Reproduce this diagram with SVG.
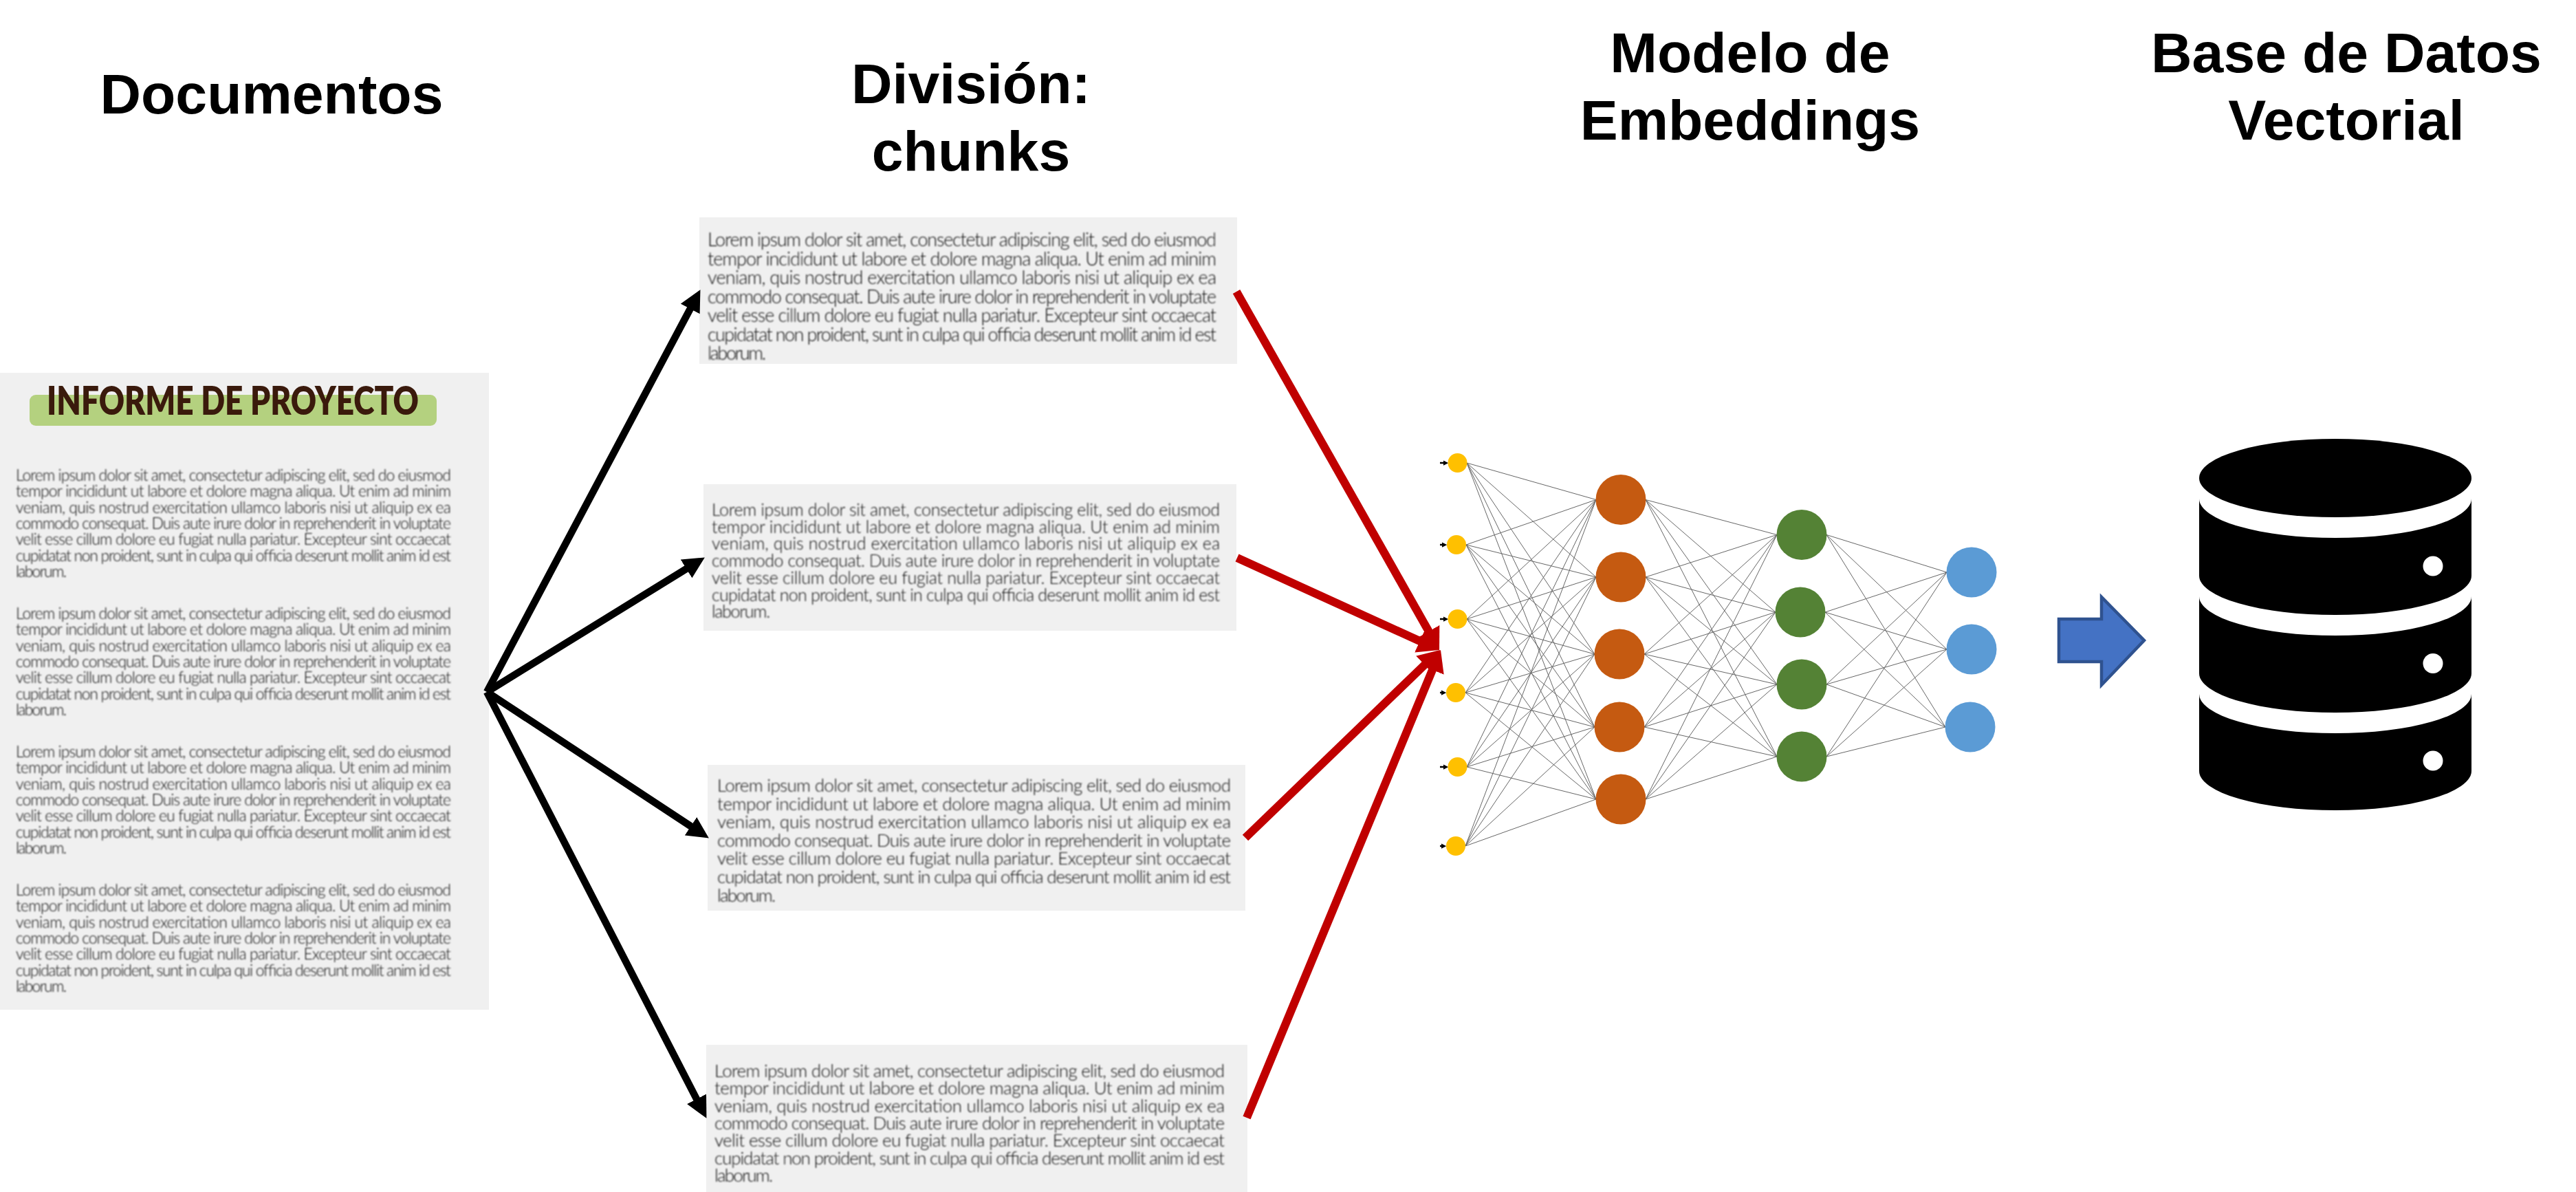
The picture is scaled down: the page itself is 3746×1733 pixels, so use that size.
<svg xmlns="http://www.w3.org/2000/svg" width="3746" height="1733" viewBox="0 0 3746 1733">
<style>
.title{font-family:"Liberation Sans",Arial,sans-serif;font-weight:700;font-size:82.4px;fill:#000;text-anchor:middle}
.sheet{fill:#f0f0f0}
.lorem{font-family:"Lato","Noto Sans",sans-serif;font-weight:300;fill:#0c0c0c;filter:url(#soft)}
.edge{stroke:#666;stroke-width:1;fill:none}
.k{stroke:#000;stroke-width:10.5;fill:none;marker-end:url(#hk)}
.r{stroke:#c00000;stroke-width:12;fill:none;marker-end:url(#hr)}
.i{stroke:#000;stroke-width:2.5;fill:none;marker-end:url(#hi)}
.y{fill:#ffc000}.o{fill:#c55a11}.g{fill:#548235}.b{fill:#5b9bd5}
</style>
<defs>
<filter id="soft" x="-2%" y="-20%" width="104%" height="140%"><feGaussianBlur stdDeviation="0.9"/></filter>
<marker id="hk" viewBox="0 0 3 3" markerWidth="3" markerHeight="3" refX="1" refY="1.5" orient="auto" markerUnits="strokeWidth"><path d="M0 0L3 1.5L0 3Z" fill="#000"/></marker>
<marker id="hr" viewBox="0 0 3 3" markerWidth="3" markerHeight="3" refX="0.6" refY="1.5" orient="auto" markerUnits="strokeWidth"><path d="M0 0L2.6 1.5L0 3Z" fill="#c00000"/></marker>
<marker id="hi" viewBox="0 0 3 3" markerWidth="3" markerHeight="3" refX="0.5" refY="1.5" orient="auto" markerUnits="strokeWidth"><path d="M0 0L3 1.5L0 3Z" fill="#000"/></marker>
</defs>
<rect width="3746" height="1733" fill="#fff"/>

<g id="titulos">
<text class="title" x="395" y="165">Documentos</text>
<text class="title" x="1412" y="150">División:</text>
<text class="title" x="1412" y="248">chunks</text>
<text class="title" x="2545" y="105">Modelo de</text>
<text class="title" x="2545" y="203">Embeddings</text>
<text class="title" x="3412" y="105">Base de Datos</text>
<text class="title" x="3412" y="203">Vectorial</text>
</g>

<g id="documento">
<rect class="sheet" x="0" y="542" width="711" height="926"/>
<rect x="43" y="574" width="592" height="45" rx="9" fill="#b4d17f"/>
<text x="68" y="603" font-family="Lato,'Noto Sans',sans-serif" font-weight="800" font-size="57" fill="#3a1a0c" textLength="541" lengthAdjust="spacingAndGlyphs">INFORME DE PROYECTO</text>
<g class="lorem" font-size="23">
<text x="23" y="699" textLength="633">Lorem ipsum dolor sit amet, consectetur adipiscing elit, sed do eiusmod</text>
<text x="23" y="722.3" textLength="633">tempor incididunt ut labore et dolore magna aliqua. Ut enim ad minim</text>
<text x="23" y="745.6" textLength="633">veniam, quis nostrud exercitation ullamco laboris nisi ut aliquip ex ea</text>
<text x="23" y="768.9" textLength="633">commodo consequat. Duis aute irure dolor in reprehenderit in voluptate</text>
<text x="23" y="792.2" textLength="633">velit esse cillum dolore eu fugiat nulla pariatur. Excepteur sint occaecat</text>
<text x="23" y="815.5" textLength="633">cupidatat non proident, sunt in culpa qui officia deserunt mollit anim id est</text>
<text x="23" y="838.8" textLength="74">laborum.</text>
<text x="23" y="900" textLength="633">Lorem ipsum dolor sit amet, consectetur adipiscing elit, sed do eiusmod</text>
<text x="23" y="923.3" textLength="633">tempor incididunt ut labore et dolore magna aliqua. Ut enim ad minim</text>
<text x="23" y="946.6" textLength="633">veniam, quis nostrud exercitation ullamco laboris nisi ut aliquip ex ea</text>
<text x="23" y="969.9" textLength="633">commodo consequat. Duis aute irure dolor in reprehenderit in voluptate</text>
<text x="23" y="993.2" textLength="633">velit esse cillum dolore eu fugiat nulla pariatur. Excepteur sint occaecat</text>
<text x="23" y="1016.5" textLength="633">cupidatat non proident, sunt in culpa qui officia deserunt mollit anim id est</text>
<text x="23" y="1039.8" textLength="74">laborum.</text>
<text x="23" y="1101" textLength="633">Lorem ipsum dolor sit amet, consectetur adipiscing elit, sed do eiusmod</text>
<text x="23" y="1124.3" textLength="633">tempor incididunt ut labore et dolore magna aliqua. Ut enim ad minim</text>
<text x="23" y="1147.6" textLength="633">veniam, quis nostrud exercitation ullamco laboris nisi ut aliquip ex ea</text>
<text x="23" y="1170.9" textLength="633">commodo consequat. Duis aute irure dolor in reprehenderit in voluptate</text>
<text x="23" y="1194.2" textLength="633">velit esse cillum dolore eu fugiat nulla pariatur. Excepteur sint occaecat</text>
<text x="23" y="1217.5" textLength="633">cupidatat non proident, sunt in culpa qui officia deserunt mollit anim id est</text>
<text x="23" y="1240.8" textLength="74">laborum.</text>
<text x="23" y="1302" textLength="633">Lorem ipsum dolor sit amet, consectetur adipiscing elit, sed do eiusmod</text>
<text x="23" y="1325.3" textLength="633">tempor incididunt ut labore et dolore magna aliqua. Ut enim ad minim</text>
<text x="23" y="1348.6" textLength="633">veniam, quis nostrud exercitation ullamco laboris nisi ut aliquip ex ea</text>
<text x="23" y="1371.9" textLength="633">commodo consequat. Duis aute irure dolor in reprehenderit in voluptate</text>
<text x="23" y="1395.2" textLength="633">velit esse cillum dolore eu fugiat nulla pariatur. Excepteur sint occaecat</text>
<text x="23" y="1418.5" textLength="633">cupidatat non proident, sunt in culpa qui officia deserunt mollit anim id est</text>
<text x="23" y="1441.8" textLength="74">laborum.</text>
</g>
</g>

<g id="chunk-1">
<rect class="sheet" x="1017" y="316" width="782" height="213"/>
<g class="lorem" font-size="27">
<text x="1029" y="358" textLength="740">Lorem ipsum dolor sit amet, consectetur adipiscing elit, sed do eiusmod</text>
<text x="1029" y="385.5" textLength="740">tempor incididunt ut labore et dolore magna aliqua. Ut enim ad minim</text>
<text x="1029" y="413" textLength="740">veniam, quis nostrud exercitation ullamco laboris nisi ut aliquip ex ea</text>
<text x="1029" y="440.5" textLength="740">commodo consequat. Duis aute irure dolor in reprehenderit in voluptate</text>
<text x="1029" y="468" textLength="740">velit esse cillum dolore eu fugiat nulla pariatur. Excepteur sint occaecat</text>
<text x="1029" y="495.5" textLength="740">cupidatat non proident, sunt in culpa qui officia deserunt mollit anim id est</text>
<text x="1029" y="523" textLength="85">laborum.</text>
</g>
</g>

<g id="chunk-2">
<rect class="sheet" x="1023" y="704" width="775" height="213"/>
<g class="lorem" font-size="25">
<text x="1035" y="750" textLength="739">Lorem ipsum dolor sit amet, consectetur adipiscing elit, sed do eiusmod</text>
<text x="1035" y="774.7" textLength="739">tempor incididunt ut labore et dolore magna aliqua. Ut enim ad minim</text>
<text x="1035" y="799.4" textLength="739">veniam, quis nostrud exercitation ullamco laboris nisi ut aliquip ex ea</text>
<text x="1035" y="824.1" textLength="739">commodo consequat. Duis aute irure dolor in reprehenderit in voluptate</text>
<text x="1035" y="848.8" textLength="739">velit esse cillum dolore eu fugiat nulla pariatur. Excepteur sint occaecat</text>
<text x="1035" y="873.5" textLength="739">cupidatat non proident, sunt in culpa qui officia deserunt mollit anim id est</text>
<text x="1035" y="898.2" textLength="85">laborum.</text>
</g>
</g>

<g id="chunk-3">
<rect class="sheet" x="1029" y="1112" width="782" height="212"/>
<g class="lorem" font-size="26">
<text x="1043" y="1151" textLength="747">Lorem ipsum dolor sit amet, consectetur adipiscing elit, sed do eiusmod</text>
<text x="1043" y="1177.6" textLength="747">tempor incididunt ut labore et dolore magna aliqua. Ut enim ad minim</text>
<text x="1043" y="1204.2" textLength="747">veniam, quis nostrud exercitation ullamco laboris nisi ut aliquip ex ea</text>
<text x="1043" y="1230.8" textLength="747">commodo consequat. Duis aute irure dolor in reprehenderit in voluptate</text>
<text x="1043" y="1257.4" textLength="747">velit esse cillum dolore eu fugiat nulla pariatur. Excepteur sint occaecat</text>
<text x="1043" y="1284" textLength="747">cupidatat non proident, sunt in culpa qui officia deserunt mollit anim id est</text>
<text x="1043" y="1310.6" textLength="85">laborum.</text>
</g>
</g>

<g id="chunk-4">
<rect class="sheet" x="1027" y="1519" width="787" height="214"/>
<g class="lorem" font-size="26">
<text x="1039" y="1566" textLength="742">Lorem ipsum dolor sit amet, consectetur adipiscing elit, sed do eiusmod</text>
<text x="1039" y="1591.3" textLength="742">tempor incididunt ut labore et dolore magna aliqua. Ut enim ad minim</text>
<text x="1039" y="1616.6" textLength="742">veniam, quis nostrud exercitation ullamco laboris nisi ut aliquip ex ea</text>
<text x="1039" y="1641.9" textLength="742">commodo consequat. Duis aute irure dolor in reprehenderit in voluptate</text>
<text x="1039" y="1667.2" textLength="742">velit esse cillum dolore eu fugiat nulla pariatur. Excepteur sint occaecat</text>
<text x="1039" y="1692.5" textLength="742">cupidatat non proident, sunt in culpa qui officia deserunt mollit anim id est</text>
<text x="1039" y="1717.8" textLength="85">laborum.</text>
</g>
</g>

<g id="connectors">
<line class="k" x1="708" y1="1006" x2="1008.6" y2="439.7"/>
<line class="k" x1="708" y1="1006" x2="1007" y2="821.5"/>
<line class="k" x1="708" y1="1006" x2="1013.3" y2="1207"/>
<line class="k" x1="708" y1="1006" x2="1017.8" y2="1607.2"/>
<line class="r" x1="1798" y1="424" x2="2081.2" y2="924.1"/>
<line class="r" x1="1799" y1="811" x2="2071.2" y2="935"/>
<line class="r" x1="1811" y1="1218" x2="2076.7" y2="961.7"/>
<line class="r" x1="1813" y1="1625" x2="2085.8" y2="967.2"/>
<line class="i" x1="2094" y1="673" x2="2100" y2="673"/>
<line class="i" x1="2094" y1="792" x2="2098" y2="792"/>
<line class="i" x1="2094" y1="900" x2="2100" y2="900"/>
<line class="i" x1="2094" y1="1007" x2="2097" y2="1007"/>
<line class="i" x1="2094" y1="1115" x2="2100" y2="1115"/>
<line class="i" x1="2094" y1="1230" x2="2097" y2="1230"/>
<g id="capa-1-2">
<line class="edge" x1="2133" y1="673" x2="2321" y2="726.5"/><line class="edge" x1="2133" y1="673" x2="2321" y2="839"/><line class="edge" x1="2133" y1="673" x2="2319" y2="951"/><line class="edge" x1="2133" y1="673" x2="2319" y2="1057"/><line class="edge" x1="2133" y1="673" x2="2321" y2="1162"/>
<line class="edge" x1="2132" y1="792" x2="2321" y2="726.5"/><line class="edge" x1="2132" y1="792" x2="2321" y2="839"/><line class="edge" x1="2132" y1="792" x2="2319" y2="951"/><line class="edge" x1="2132" y1="792" x2="2319" y2="1057"/><line class="edge" x1="2132" y1="792" x2="2321" y2="1162"/>
<line class="edge" x1="2133" y1="900" x2="2321" y2="726.5"/><line class="edge" x1="2133" y1="900" x2="2321" y2="839"/><line class="edge" x1="2133" y1="900" x2="2319" y2="951"/><line class="edge" x1="2133" y1="900" x2="2319" y2="1057"/><line class="edge" x1="2133" y1="900" x2="2321" y2="1162"/>
<line class="edge" x1="2131" y1="1007" x2="2321" y2="726.5"/><line class="edge" x1="2131" y1="1007" x2="2321" y2="839"/><line class="edge" x1="2131" y1="1007" x2="2319" y2="951"/><line class="edge" x1="2131" y1="1007" x2="2319" y2="1057"/><line class="edge" x1="2131" y1="1007" x2="2321" y2="1162"/>
<line class="edge" x1="2133" y1="1115" x2="2321" y2="726.5"/><line class="edge" x1="2133" y1="1115" x2="2321" y2="839"/><line class="edge" x1="2133" y1="1115" x2="2319" y2="951"/><line class="edge" x1="2133" y1="1115" x2="2319" y2="1057"/><line class="edge" x1="2133" y1="1115" x2="2321" y2="1162"/>
<line class="edge" x1="2131" y1="1230" x2="2321" y2="726.5"/><line class="edge" x1="2131" y1="1230" x2="2321" y2="839"/><line class="edge" x1="2131" y1="1230" x2="2319" y2="951"/><line class="edge" x1="2131" y1="1230" x2="2319" y2="1057"/><line class="edge" x1="2131" y1="1230" x2="2321" y2="1162"/>
</g>
<g id="capa-2-3">
<line class="edge" x1="2393" y1="726.5" x2="2584" y2="777.5"/><line class="edge" x1="2393" y1="726.5" x2="2582" y2="890"/><line class="edge" x1="2393" y1="726.5" x2="2584" y2="995"/><line class="edge" x1="2393" y1="726.5" x2="2584" y2="1100"/>
<line class="edge" x1="2393" y1="839" x2="2584" y2="777.5"/><line class="edge" x1="2393" y1="839" x2="2582" y2="890"/><line class="edge" x1="2393" y1="839" x2="2584" y2="995"/><line class="edge" x1="2393" y1="839" x2="2584" y2="1100"/>
<line class="edge" x1="2391" y1="951" x2="2584" y2="777.5"/><line class="edge" x1="2391" y1="951" x2="2582" y2="890"/><line class="edge" x1="2391" y1="951" x2="2584" y2="995"/><line class="edge" x1="2391" y1="951" x2="2584" y2="1100"/>
<line class="edge" x1="2391" y1="1057" x2="2584" y2="777.5"/><line class="edge" x1="2391" y1="1057" x2="2582" y2="890"/><line class="edge" x1="2391" y1="1057" x2="2584" y2="995"/><line class="edge" x1="2391" y1="1057" x2="2584" y2="1100"/>
<line class="edge" x1="2393" y1="1162" x2="2584" y2="777.5"/><line class="edge" x1="2393" y1="1162" x2="2582" y2="890"/><line class="edge" x1="2393" y1="1162" x2="2584" y2="995"/><line class="edge" x1="2393" y1="1162" x2="2584" y2="1100"/>
</g>
<g id="capa-3-4">
<line class="edge" x1="2656" y1="777.5" x2="2831" y2="832"/><line class="edge" x1="2656" y1="777.5" x2="2831" y2="944"/><line class="edge" x1="2656" y1="777.5" x2="2829" y2="1057"/>
<line class="edge" x1="2654" y1="890" x2="2831" y2="832"/><line class="edge" x1="2654" y1="890" x2="2831" y2="944"/><line class="edge" x1="2654" y1="890" x2="2829" y2="1057"/>
<line class="edge" x1="2656" y1="995" x2="2831" y2="832"/><line class="edge" x1="2656" y1="995" x2="2831" y2="944"/><line class="edge" x1="2656" y1="995" x2="2829" y2="1057"/>
<line class="edge" x1="2656" y1="1100" x2="2831" y2="832"/><line class="edge" x1="2656" y1="1100" x2="2831" y2="944"/><line class="edge" x1="2656" y1="1100" x2="2829" y2="1057"/>
</g>
</g>

<g id="red-neuronal">
<g id="entrada">
<circle class="y" cx="2119.5" cy="673" r="14"/><circle class="y" cx="2118" cy="792" r="14"/><circle class="y" cx="2119.5" cy="900" r="14"/><circle class="y" cx="2117" cy="1007" r="14"/><circle class="y" cx="2119.5" cy="1115" r="14"/><circle class="y" cx="2117" cy="1230" r="14"/>
</g>
<g id="oculta-1">
<circle class="o" cx="2357" cy="726.5" r="36.5"/><circle class="o" cx="2357" cy="839" r="36.5"/><circle class="o" cx="2355" cy="951" r="36.5"/><circle class="o" cx="2355" cy="1057" r="36.5"/><circle class="o" cx="2357" cy="1162" r="36.5"/>
</g>
<g id="oculta-2">
<circle class="g" cx="2620" cy="777.5" r="36.5"/><circle class="g" cx="2618" cy="890" r="36.5"/><circle class="g" cx="2620" cy="995" r="36.5"/><circle class="g" cx="2620" cy="1100" r="36.5"/>
</g>
<g id="salida">
<circle class="b" cx="2867" cy="832" r="36.5"/><circle class="b" cx="2867" cy="944" r="36.5"/><circle class="b" cx="2865" cy="1057" r="36.5"/>
</g>
</g>

<g id="flecha">
<path d="M2994 900H3056V868L3118 931L3056 996V962H2994Z" fill="#4472c4" stroke="#2f528f" stroke-width="4.5"/>
</g>

<g id="base-de-datos">
<ellipse cx="3396" cy="695" rx="198" ry="57"/>
<path d="M3198 725A198 57 0 0 0 3594 725V837A198 57 0 0 1 3198 837Z"/>
<path d="M3198 867A198 57 0 0 0 3594 867V979A198 57 0 0 1 3198 979Z"/>
<path d="M3198 1009A198 57 0 0 0 3594 1009V1121A198 57 0 0 1 3198 1121Z"/>
<circle cx="3538" cy="823" r="14.5" fill="#fff"/><circle cx="3538" cy="964.5" r="14.5" fill="#fff"/><circle cx="3538" cy="1106" r="14.5" fill="#fff"/>
</g>
</svg>
